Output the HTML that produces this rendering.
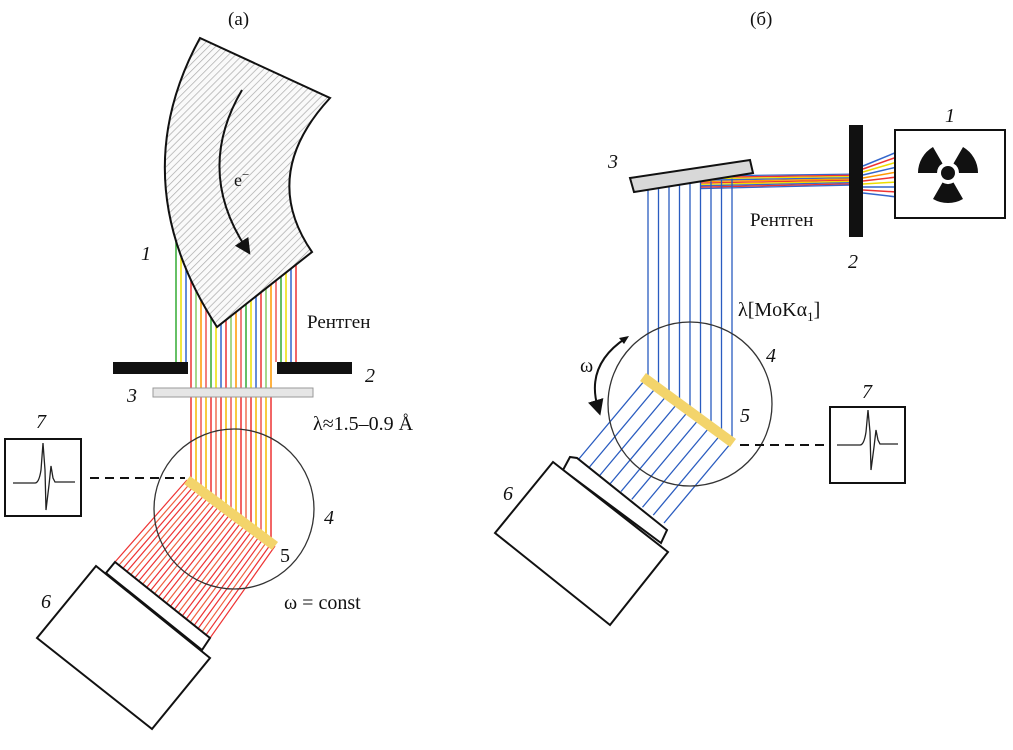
<!DOCTYPE html>
<html><head><meta charset="utf-8"><style>
html,body{margin:0;padding:0;background:#fff}
svg{display:block}
text{font-family:"Liberation Serif",serif;fill:#111}
.i{font-style:italic;font-size:20px}
</style></head><body>
<svg id="s" width="1013" height="750" viewBox="0 0 1013 750" xmlns="http://www.w3.org/2000/svg">
<defs>
<pattern id="h" width="5" height="5" patternUnits="userSpaceOnUse" patternTransform="rotate(45)">
<rect width="5" height="5" fill="#fafafa"/><line x1="0" y1="0" x2="0" y2="5" stroke="#aaa" stroke-width="1.4"/>
</pattern>
<marker id="ah" markerWidth="8" markerHeight="8" refX="4" refY="4" orient="auto"><path d="M0,0 L8,4 L0,8 Z" fill="#111"/></marker>
</defs>
<g id="L"></g>
<g id="R"></g>
<!-- left panel -->
<rect x="113" y="362" width="75" height="12" fill="#111"/>
<rect x="277" y="362" width="75" height="12" fill="#111"/>
<rect x="153" y="388" width="160" height="9" fill="#e6e6e6" stroke="#999"/>
<path d="M200,38 L330,98 Q259,175 312,252 L217,327 Q122,181 200,38 Z" fill="url(#h)" stroke="#111" stroke-width="2"/>
<path d="M242,90 Q195,170 246,248" fill="none" stroke="#111" stroke-width="2" marker-end="url(#ah)"/>
<text x="234" y="186" font-size="18">e<tspan font-size="13" dy="-7">−</tspan></text>
<circle cx="234" cy="509" r="80" fill="none" stroke="#333" stroke-width="1.3"/>
<line x1="187" y1="480" x2="275" y2="546" stroke="#f3d46b" stroke-width="10"/>
<polygon points="106,573 115,562 210,638 202,650" fill="#fff" stroke="#111" stroke-width="2"/>
<polygon points="37,638 96,566 210,658 152,729" fill="#fff" stroke="#111" stroke-width="2"/>
<rect x="5" y="439" width="76" height="77" fill="#fff" stroke="#111" stroke-width="2"/>
<path d="M13,483 L35,483 Q39,483 41,470 L43,443 L45,470 L46,510 L49,485 L51,466 L53,478 L55,482 L75,482" fill="none" stroke="#222" stroke-width="1.3"/>
<line x1="90" y1="478" x2="185" y2="478" stroke="#111" stroke-width="2" stroke-dasharray="9,6"/>
<text x="228" y="25" font-size="19">(a)</text>
<text x="141" y="260" class="i">1</text>
<text x="307" y="328" font-family="Liberation Sans" font-size="19">Рентген</text>
<text x="365" y="382" class="i">2</text>
<text x="127" y="402" class="i">3</text>
<text x="313" y="430" font-size="20">λ≈1.5–0.9 Å</text>
<text x="324" y="524" class="i">4</text>
<text x="280" y="562" font-size="20">5</text>
<text x="41" y="608" class="i">6</text>
<text x="36" y="428" class="i">7</text>
<text x="284" y="609" font-size="20">ω = const</text>
<!-- right panel -->
<rect x="895" y="130" width="110" height="88" fill="#fff" stroke="#111" stroke-width="2"/>
<g transform="translate(948,173)" fill="#111">
<circle r="7"/>
<g transform="rotate(60)"><path d="M-5.5,-9.5 A11,11 0 0 1 5.5,-9.5 L 15,-26 A30,30 0 0 0 -15,-26 Z"/></g>
<g transform="rotate(180)"><path d="M-5.5,-9.5 A11,11 0 0 1 5.5,-9.5 L 15,-26 A30,30 0 0 0 -15,-26 Z"/></g>
<g transform="rotate(300)"><path d="M-5.5,-9.5 A11,11 0 0 1 5.5,-9.5 L 15,-26 A30,30 0 0 0 -15,-26 Z"/></g>
</g>
<rect x="849" y="125" width="14" height="112" fill="#111"/>
<polygon points="630,178 750,160 753,173 634,192" fill="#d8d8d8" stroke="#111" stroke-width="2"/>
<circle cx="690" cy="404" r="82" fill="none" stroke="#333" stroke-width="1.3"/>
<line x1="643" y1="377" x2="733" y2="443" stroke="#f3d46b" stroke-width="10"/>
<polygon points="570,457 577,458 667,530 661,543 563,470" fill="#fff" stroke="#111" stroke-width="2"/>
<polygon points="495,533 553,462 668,552 610,625" fill="#fff" stroke="#111" stroke-width="2"/>
<path d="M626,338 Q585,365 598,408" fill="none" stroke="#111" stroke-width="2" marker-end="url(#ah)"/>
<path d="M629,336 l-10,2 l5,6 z" fill="#111"/>
<rect x="830" y="407" width="75" height="76" fill="#fff" stroke="#111" stroke-width="2"/>
<path d="M837,445 L860,445 Q864,445 866,432 L868,410 L870,432 L871,470 L874,447 L876,430 L878,440 L880,444 L898,444" fill="none" stroke="#222" stroke-width="1.3"/>
<line x1="740" y1="445" x2="830" y2="445" stroke="#111" stroke-width="2" stroke-dasharray="9,6"/>
<text x="750" y="25" font-size="19">(б)</text>
<text x="945" y="122" class="i">1</text>
<text x="848" y="268" class="i">2</text>
<text x="608" y="168" class="i">3</text>
<text x="750" y="226" font-family="Liberation Sans" font-size="19">Рентген</text>
<text x="738" y="316" font-size="20">λ[MoKα<tspan font-size="13" dy="5">1</tspan><tspan dy="-5">]</tspan></text>
<text x="766" y="362" class="i">4</text>
<text x="740" y="422" class="i">5</text>
<text x="503" y="500" class="i">6</text>
<text x="862" y="398" class="i">7</text>
<text x="580" y="372" font-size="20">ω</text>
</svg>
<script>
var NS="http://www.w3.org/2000/svg";
function ln(g,x1,y1,x2,y2,c,w){var l=document.createElementNS(NS,"line");l.setAttribute("x1",x1);l.setAttribute("y1",y1);l.setAttribute("x2",x2);l.setAttribute("y2",y2);l.setAttribute("stroke",c);l.setAttribute("stroke-width",w||1.5);g.appendChild(l);}
var L=document.getElementById("L"),R=document.getElementById("R");
var pal=["#3a3","#eedd00","#36c","#e33","#8c6","#f90","#e55"];
var low=["#f5b800","#e33","#f07050","#e33","#f5b800","#e55"];
var i=0;
for(var x=176;x<=297;x+=5,i++){
  var through = x>=190 && x<=275;
  if(!through){ln(L,x,240,x,362,pal[i%7]);continue;}
  var yc=480+(x-187)*66/88;
  ln(L,x,240,x,388,pal[i%7]);
  ln(L,x,397,x,yc,low[i%6]);
}
for(var k=0;k<25;k++){
  var t=k/24; var sx=187+88*t, sy=480+66*t;
  var ex=115+95*t, ey=562+76*t;
  ln(L,sx,sy,ex,ey,k%3==1?"#f06040":"#e33",1.2);
}
var bc=["#36c","#e33","#eedd00","#36c","#f90","#e33","#eedd00","#36c","#e33","#36c"];
for(var k=0;k<10;k++){
  ln(R,897,152+k*5,863,166+k*3,bc[k],1.5);
  ln(R,863,174+k*1.2,700,176+k*1.4,bc[k],1.3);
}
for(var k=0;k<9;k++){
  var x=648+k*10.5; var ym=190-(x-634)*14/116+0.5;
  var yc=377+(x-643)*66/90;
  ln(R,x,ym,x,yc,"#2a5cc0",1.3);
  var t=k/8; var sx=645+86*t, sy=380+63*t;
  ln(R,sx,sy,sx-67,sy+80,"#2a5cc0",1.3);
}
</script>
</body></html>
